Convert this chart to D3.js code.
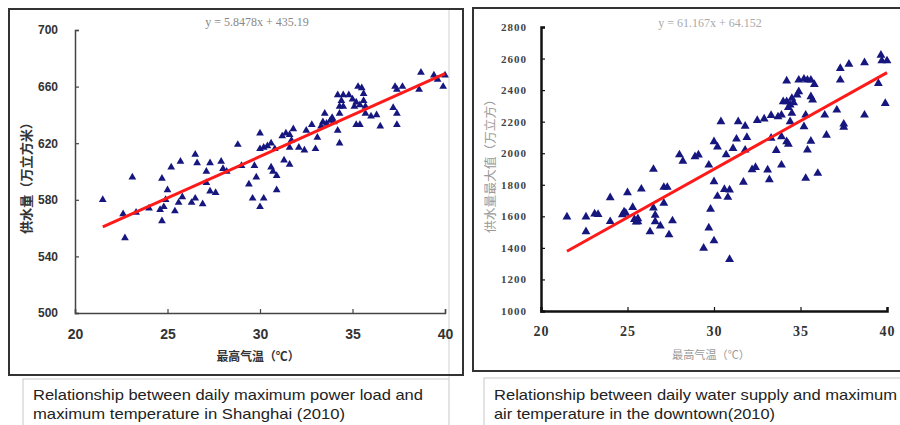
<!DOCTYPE html>
<html><head><meta charset="utf-8">
<script src="https://cdn.jsdelivr.net/npm/d3@7/dist/d3.min.js"></script>
<style>
html,body{margin:0;padding:0;background:#fff;}
svg{display:block;}
</style></head>
<body>
<svg id="chart" width="900" height="425"></svg>
<script>
// ---------- DATA ----------
// Left: daily maximum power load vs maximum temperature (Shanghai 2010)
const tempA = [21.5,23.1,22.7,22.6,23.3,24.0,24.6,24.8,24.7,25.0,24.9,24.7,25.2,25.4,25.6,25.8,25.7,26.3,26.5,26.9,
  26.5,26.6,27.1,27.3,27.1,27.3,27.6,27.9,28.0,28.2,28.8,29.0,29.7,29.4,29.8,29.6,30.2,30.0,30.0,30.0,
  30.2,30.4,30.6,30.8,30.6,30.7,30.9,30.9,31.2,31.3,31.6,31.4,31.6,31.7,31.8,31.6,32.1,32.4,32.5,32.8,
  33.0,33.1,33.5,33.4,33.9,34.0,34.2,34.3,34.3,34.3,34.2,34.5,34.8,35.0,34.5,35.1,35.3,35.5,35.6,35.6,
  35.7,35.2,35.4,35.7,36.0,36.3,36.5,37.2,37.4,37.4,37.3,37.4,37.7,38.6,38.7,39.4,39.6,39.9,40.0,33.6,
  35.2,35.4,34.4,33.8,33.3];
const loadA = [580,596,553,570,571,574,573,575,565,587,580,595,603,572,578,582,607,578,581,577,
  612,606,600,606,592,586,585,607,602,600,619,604,604,591,596,581,581,575,627,616,
  617,618,620,616,603,600,597,587,625,608,605,627,626,622,630,617,617,615,629,633,
  616,624,641,635,638,635,629,620,641,646,654,654,654,651,646,646,660,659,655,650,
  646,633,633,641,639,640,632,645,641,633,660,658,660,658,670,668,665,660,668,634,
  649,647,650,636,632];
const trendA = [[21.5, 560.9], [40.0, 669.1]];
const eqA = "y = 5.8478x + 435.19";
const yTicksA = [500,540,580,620,660,700];
const xTicks = [20,25,30,35,40];
const yTitleA = "供水量（万立方米）";
const xTitle = "最高气温（℃）";
const captionA = ["Relationship between daily maximum power load and", "maximum temperature in Shanghai (2010)"];

// Right: daily water supply vs maximum air temperature (downtown 2010)
const tempB = [21.5,22.6,23.1,23.3,22.6,24.0,24.0,24.8,24.7,25.0,25.3,25.5,25.4,25.6,25.8,26.3,26.5,26.5,26.6,26.6,
  26.9,27.1,27.1,27.3,27.4,27.6,28.0,28.2,28.9,29.1,29.7,30.0,30.4,30.0,30.2,30.2,30.6,30.9,30.8,29.8,
  29.7,30.0,29.4,30.9,31.7,31.4,31.8,31.9,31.3,31.1,30.7,32.2,32.4,33.1,33.2,32.5,32.9,33.3,33.6,31.8,
  33.3,33.9,33.7,33.9,33.9,34.2,34.3,34.4,34.5,34.4,34.0,34.2,34.5,34.8,34.9,34.2,34.9,35.2,35.4,35.6,
  35.8,35.6,35.7,35.3,35.2,35.6,35.4,35.3,36.0,36.4,36.5,37.1,37.5,37.5,37.3,37.3,37.8,38.7,38.7,39.5,
  39.9,39.65,39.7,40.0,34.6,34.3,24.9,25.6];
const supplyB = [1596,1596,1615,1612,1503,1567,1718,1628,1610,1750,1657,1564,1580,1566,1773,1502,1898,1653,1607,1566,
  1539,1683,1784,1784,1483,1572,1990,1950,1978,1989,1925,1820,2200,2073,2040,1727,1771,1767,1721,1646,
  1527,1445,1398,1327,1817,2200,2172,2100,2090,2031,1990,1896,1910,1894,1832,2208,2218,2240,2018,2020,
  2095,1925,2231,2242,2105,2073,2058,2200,2253,2306,2327,2327,2348,2369,2390,2458,2464,2470,2464,2464,
  2436,2358,2337,2242,2168,2077,2020,1841,1873,2242,2115,2274,2185,2165,2464,2538,2564,2574,2242,2443,
  2316,2622,2586,2586,2320,2290,1620,1585];
const trendB = [[21.5, 1379], [40.0, 2511]];
const eqB = "y = 61.167x + 64.152";
const yTicksB = [1000,1200,1400,1600,1800,2000,2200,2400,2600,2800];
const yTitleB = "供水量最大值（万立方）";
const captionB = ["Relationship between daily water supply and maximum", "air temperature in the downtown(2010)"];

// ---------- DRAW ----------
const svg = d3.select("#chart");

function panel(cfg) {
  const g = svg.append("g");
  const x = d3.scaleLinear().domain([20, 40]).range(cfg.xr);
  const y = d3.scaleLinear().domain(cfg.yd).range(cfg.yr);

  g.append("rect").attr("x", cfg.frame[0]).attr("y", cfg.frame[1])
    .attr("width", cfg.frame[2]).attr("height", cfg.frame[3])
    .attr("fill", "none").attr("stroke", "#333").attr("stroke-width", 2);

  const ya = g.append("g").attr("transform", `translate(${cfg.xr[0]},0)`)
    .call(d3.axisLeft(y).tickValues(cfg.yTicks).tickSize(-4).tickPadding(cfg.yPad).tickFormat(d3.format("d")));
  ya.select(".domain").attr("stroke", cfg.axisColor).attr("stroke-width", cfg.axisW);
  ya.selectAll(".tick line").attr("stroke", cfg.axisColor).attr("stroke-width", 1.2);
  ya.selectAll(".tick text").attr("font-family", cfg.yFont).attr("font-size", cfg.yFs)
    .attr("font-weight", "bold").attr("fill", cfg.yLabColor).attr("letter-spacing", cfg.yLs);

  const xa = g.append("g").attr("transform", `translate(0,${cfg.yr[0]})`)
    .call(d3.axisBottom(x).tickValues(xTicks).tickSize(-4).tickPadding(cfg.xPad));
  xa.select(".domain").attr("stroke", cfg.axisColor).attr("stroke-width", cfg.axisW);
  xa.selectAll(".tick line").attr("stroke", cfg.axisColor).attr("stroke-width", 1.2);
  xa.selectAll(".tick text").attr("font-family", cfg.xFont).attr("font-size", 14)
    .attr("font-weight", "bold").attr("fill", "#333").attr("letter-spacing", cfg.xLs);

  g.append("g").selectAll("path").data(cfg.xs.map((d, i) => [d, cfg.ys[i]])).join("path")
    .attr("transform", d => `translate(${x(d[0])},${y(d[1])})`)
    .attr("d", d3.symbol(d3.symbolTriangle, cfg.mSize))
    .attr("fill", "#16167f");

  g.append("path").datum(cfg.trend)
    .attr("d", d3.line().x(d => x(d[0])).y(d => y(d[1])))
    .attr("stroke", "#ff1a1a").attr("stroke-width", 3).attr("fill", "none");

  g.append("text").attr("x", cfg.eqPos[0]).attr("y", cfg.eqPos[1]).attr("text-anchor", "middle")
    .attr("font-family", "'Liberation Serif', serif").attr("font-size", 12)
    .attr("fill", cfg.eqColor).text(cfg.eq);

  g.append("text").attr("transform", `translate(${cfg.yTitlePos[0]},${cfg.yTitlePos[1]}) rotate(-90)`)
    .attr("text-anchor", "middle").attr("font-family", "'Noto Sans CJK SC', sans-serif")
    .attr("font-size", cfg.yTitleFs).attr("font-weight", cfg.titleW).attr("fill", cfg.titleColor)
    .attr("textLength", cfg.yTitleLen).attr("lengthAdjust", "spacingAndGlyphs").text(cfg.yTitle);
  g.append("text").attr("x", cfg.xTitlePos[0]).attr("y", cfg.xTitlePos[1]).attr("text-anchor", "middle")
    .attr("font-family", "'Noto Sans CJK SC', sans-serif").attr("font-size", cfg.xTitleFs)
    .attr("font-weight", cfg.titleW).attr("fill", cfg.titleColor)
    .attr("textLength", cfg.xTitleLen).attr("lengthAdjust", "spacingAndGlyphs").text(xTitle);

  g.append("rect").attr("x", cfg.cap[0]).attr("y", cfg.cap[1]).attr("width", cfg.cap[2]).attr("height", 60)
    .attr("fill", "#fff").attr("stroke", "#c8c8c8").attr("stroke-width", 1);
  cfg.caption.forEach((t, i) => {
    g.append("text").attr("x", cfg.capText[0]).attr("y", cfg.capText[1] + i * 19)
      .attr("font-family", "'Liberation Sans', Arial, sans-serif").attr("font-size", 15)
      .attr("fill", "#222").attr("textLength", cfg.capLen[i]).attr("lengthAdjust", "spacingAndGlyphs").text(t);
  });
}

svg.append("line").attr("x1", 449).attr("x2", 449).attr("y1", 10).attr("y2", 379)
  .attr("stroke", "#d0d0d0").attr("stroke-width", 1);

panel({
  xr: [75, 445], yr: [313, 30], yd: [500, 700], yTicks: yTicksA,
  frame: [9, 9, 454, 366],
  axisColor: "#444", axisW: 1.5, yPad: 17, xPad: 16,
  yFont: "'Liberation Sans', Arial, sans-serif", yFs: 12, yLs: 0, yLabColor: "#333",
  xFont: "'Liberation Sans', Arial, sans-serif", xLs: 0,
  xs: tempA, ys: loadA, mSize: 26, trend: trendA,
  eq: eqA, eqPos: [257, 26], eqColor: "#888",
  yTitle: yTitleA, yTitlePos: [31, 175], yTitleFs: 13, yTitleLen: 118,
  xTitlePos: [258, 361], xTitleFs: 12, xTitleLen: 83, titleW: "bold", titleColor: "#333",
  cap: [23, 379, 426], capText: [33, 400], capLen: [390, 312], caption: captionA
});

panel({
  xr: [541, 887], yr: [311, 27], yd: [1000, 2800], yTicks: yTicksB,
  frame: [473, 8, 440, 363],
  axisColor: "#111", axisW: 2.5, yPad: 14, xPad: 15,
  yFont: "'Liberation Serif', serif", yFs: 11, yLs: 1, yLabColor: "#444",
  xFont: "'Liberation Serif', serif", xLs: 1,
  xs: tempB, ys: supplyB, mSize: 34, trend: trendB,
  eq: eqB, eqPos: [710, 27], eqColor: "#aaa",
  yTitle: yTitleB, yTitlePos: [495, 163], yTitleFs: 12, yTitleLen: 140,
  xTitlePos: [711, 359], xTitleFs: 11, xTitleLen: 78, titleW: "normal", titleColor: "#999",
  cap: [484, 378, 430], capText: [494, 400], capLen: [403, 281], caption: captionB
});
</script>
</body></html>
